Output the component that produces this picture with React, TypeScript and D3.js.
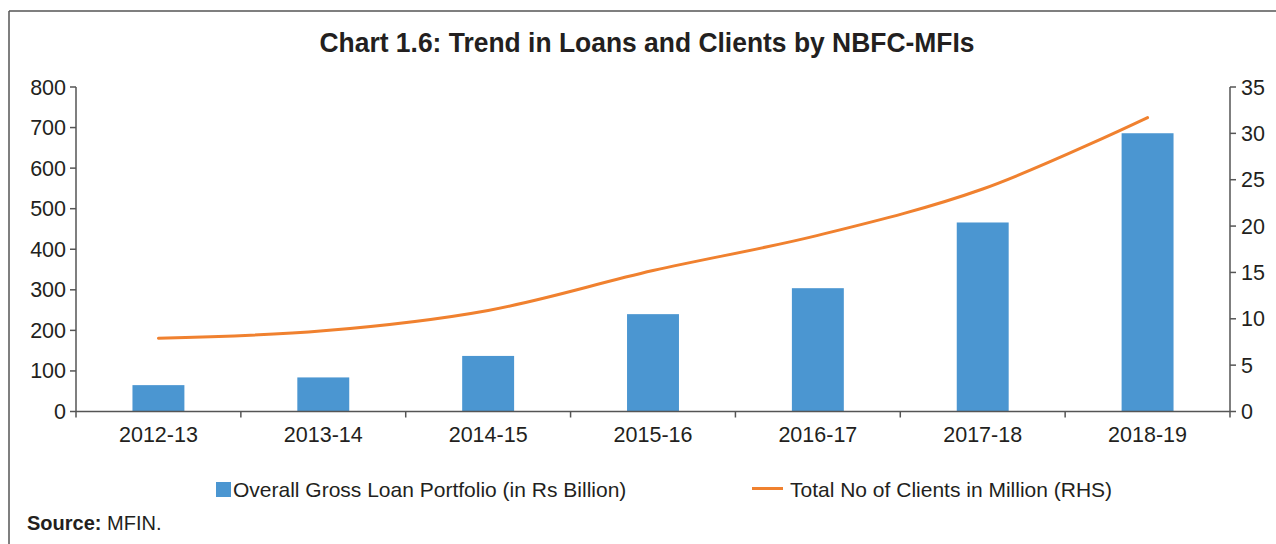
import React from "react";
import * as d3 from "d3";

const categories = ["2012-13", "2013-14", "2014-15", "2015-16", "2016-17", "2017-18", "2018-19"];
const loanPortfolio = [65, 84, 137, 240, 304, 466, 686];
const clients = [7.9, 8.7, 10.9, 15.2, 19.0, 24.0, 31.7];
const leftTicks = [0, 100, 200, 300, 400, 500, 600, 700, 800];
const rightTicks = [0, 5, 10, 15, 20, 25, 30, 35];

const title = "Chart 1.6: Trend in Loans and Clients by NBFC-MFIs";
const legendBar = "Overall Gross Loan Portfolio (in Rs Billion)";
const legendLine = "Total No of Clients in Million (RHS)";

const W = 1276;
const H = 544;
const left = 76;
const right = 1230;
const top = 87;
const bottom = 411.5;

const BAR = "#4B96D1";
const LINE = "#F0812F";
const AXIS = "#555555";
const TEXT = "#231F20";
const FONT = "'Liberation Sans', Arial, sans-serif";
const FS = 21.5;

export default function App() {
  const x = d3.scaleBand<string>().domain(categories).range([left, right]).paddingInner(0).paddingOuter(0);
  const yL = d3.scaleLinear().domain([0, 800]).range([bottom, top]);
  const yR = d3.scaleLinear().domain([0, 35]).range([bottom, top]);
  const step = x.step();
  const barW = step * 0.315;
  const cx = (c: string) => (x(c) as number) + step / 2;

  const lineGen = d3
    .line<number>()
    .x((_, i) => cx(categories[i]))
    .y((d) => yR(d))
    .curve(d3.curveCatmullRom.alpha(0.5));

  const boundaries = d3.range(categories.length + 1).map((i) => left + i * step);

  return (
    <svg width={W} height={H} style={{ position: "absolute", left: 0, top: 0, background: "#fff" }} fontFamily={FONT}>
      {/* frame */}
      <line x1={9} x2={W} y1={11} y2={11} stroke={AXIS} strokeWidth={1.5} />
      <line x1={9} x2={9} y1={11} y2={H} stroke={AXIS} strokeWidth={1.5} />

      <text
        x={647}
        y={52}
        textAnchor="middle"
        fontSize={27}
        fontWeight="bold"
        fill={TEXT}
        fontFamily="'Liberation Sans Narrow', 'Arial Narrow', 'Liberation Sans', Arial, sans-serif"
        textLength={655}
        lengthAdjust="spacingAndGlyphs"
      >
        {title}
      </text>

      {/* bars */}
      {categories.map((c, i) => (
        <rect key={c} x={cx(c) - barW / 2} y={yL(loanPortfolio[i])} width={barW} height={bottom - yL(loanPortfolio[i])} fill={BAR} />
      ))}

      {/* line */}
      <path d={lineGen(clients) || ""} fill="none" stroke={LINE} strokeWidth={3} strokeLinecap="round" />

      {/* left axis */}
      <line x1={left} x2={left} y1={top} y2={bottom} stroke={AXIS} strokeWidth={1.5} />
      {leftTicks.map((t) => (
        <g key={"l" + t}>
          <line x1={left - 6} x2={left} y1={yL(t)} y2={yL(t)} stroke={AXIS} strokeWidth={1.5} />
          <text x={left - 10} y={yL(t)} dy="0.35em" textAnchor="end" fontSize={FS} fill={TEXT}>
            {t}
          </text>
        </g>
      ))}

      {/* right axis */}
      <line x1={right} x2={right} y1={top} y2={bottom} stroke={AXIS} strokeWidth={1.5} />
      {rightTicks.map((t) => (
        <g key={"r" + t}>
          <line x1={right} x2={right + 6} y1={yR(t)} y2={yR(t)} stroke={AXIS} strokeWidth={1.5} />
          <text x={right + 11} y={yR(t)} dy="0.35em" textAnchor="start" fontSize={FS} fill={TEXT}>
            {t}
          </text>
        </g>
      ))}

      {/* x axis */}
      <line x1={left} x2={right} y1={bottom} y2={bottom} stroke={AXIS} strokeWidth={1.5} />
      {boundaries.map((b, i) => (
        <line key={"b" + i} x1={b} x2={b} y1={bottom} y2={bottom + 6} stroke={AXIS} strokeWidth={1.5} />
      ))}
      {categories.map((c) => (
        <text key={"c" + c} x={cx(c)} y={442} textAnchor="middle" fontSize={FS} fill={TEXT}>
          {c}
        </text>
      ))}

      {/* legend */}
      <rect x={216} y={482} width={15} height={15} fill={BAR} />
      <text x={233} y={497} fontSize={21} fill={TEXT}>
        {legendBar}
      </text>
      <line x1={752} x2={783} y1={488.5} y2={488.5} stroke={LINE} strokeWidth={3} />
      <text x={790} y={497} fontSize={21} fill={TEXT}>
        {legendLine}
      </text>

      {/* source */}
      <text x={27} y={530} fontSize={20} fill={TEXT}>
        <tspan fontWeight="bold">Source:</tspan>
        <tspan> MFIN.</tspan>
      </text>
    </svg>
  );
}
